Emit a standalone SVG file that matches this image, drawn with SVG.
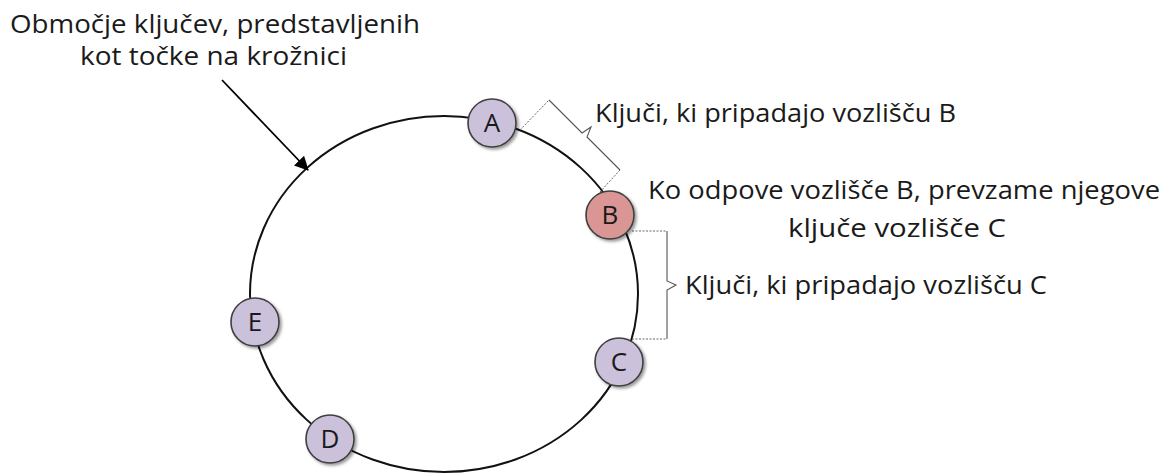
<svg xmlns="http://www.w3.org/2000/svg" width="1172" height="473" viewBox="0 0 1172 473">
  <style>
    .lbl { font-family: "Open Sans", "Noto Sans", sans-serif; font-size: 25px; fill: #1a1a1a; }
    .node circle { stroke: #3f3f3f; stroke-width: 1.6; filter: url(#shadow); }
    .node text { font-family: "Open Sans", "Noto Sans", sans-serif; font-size: 26px; fill: #1a1a1a; text-anchor: middle; }
    .peer { fill: #ccc1da; }
    .failed { fill: #d99694; }
    .ring { fill: none; stroke: #111; stroke-width: 2; }
    .dash { fill: none; stroke: #666; stroke-width: 1; stroke-dasharray: 2 1.5; }
    .brace { fill: none; stroke: #555; stroke-width: 1.1; }
  </style>
  <defs>
    <filter id="shadow" x="-30%" y="-30%" width="170%" height="170%">
      <feDropShadow dx="2" dy="2" stdDeviation="1.5" flood-color="#000" flood-opacity="0.4"/>
    </filter>
    <marker id="arrow" viewBox="0 0 14 14" refX="13" refY="7" markerWidth="14" markerHeight="14" markerUnits="userSpaceOnUse" orient="auto">
      <path d="M0,0 L14,7 L0,14 Z" fill="#000"/>
    </marker>
  </defs>
  <rect width="1172" height="473" fill="#fff"/>

  <!-- key space ring -->
  <ellipse class="ring" cx="444" cy="294" rx="194" ry="178"/>

  <g id="connectors">
    <!-- pointer to the ring -->
    <line x1="222" y1="80" x2="308" y2="170" stroke="#000" stroke-width="1.8" marker-end="url(#arrow)"/>
    <!-- brace for keys of B (A..B) -->
    <path class="dash" d="M520,130 L549,100"/>
    <path class="dash" d="M620,170 L600,192"/>
    <path class="brace" d="M549,100 L582,133 L591,127 L587,137 L620,170"/>
    <!-- brace for keys of C (B..C) -->
    <path class="dash" d="M632,231 L667,231"/>
    <path class="dash" d="M632,339 L667,339"/>
    <path class="brace" d="M667,231 L667,281 L676,285 L667,290 L667,339"/>
  </g>

  <g id="node-A" class="node"><circle class="peer" cx="492" cy="123" r="24"/><text x="492" y="132">A</text></g>
  <g id="node-B" class="node"><circle class="failed" cx="610" cy="215" r="24"/><text x="610" y="224">B</text></g>
  <g id="node-C" class="node"><circle class="peer" cx="619" cy="362" r="24"/><text x="619" y="371">C</text></g>
  <g id="node-D" class="node"><circle class="peer" cx="330" cy="439" r="24"/><text x="330" y="448">D</text></g>
  <g id="node-E" class="node"><circle class="peer" cx="255" cy="322" r="24"/><text x="255" y="331">E</text></g>

  <g id="labels">
    <text class="lbl" x="10" y="33" textLength="410" lengthAdjust="spacingAndGlyphs">Območje ključev, predstavljenih</text>
    <text class="lbl" x="80" y="65" textLength="267" lengthAdjust="spacingAndGlyphs">kot točke na krožnici</text>
    <text class="lbl" x="595" y="122" textLength="361" lengthAdjust="spacingAndGlyphs">Ključi, ki pripadajo vozlišču B</text>
    <text class="lbl" x="648" y="199" textLength="512" lengthAdjust="spacingAndGlyphs">Ko odpove vozlišče B, prevzame njegove</text>
    <text class="lbl" x="788" y="237" textLength="218" lengthAdjust="spacingAndGlyphs">ključe vozlišče C</text>
    <text class="lbl" x="685" y="294" textLength="362" lengthAdjust="spacingAndGlyphs">Ključi, ki pripadajo vozlišču C</text>
  </g>
</svg>
